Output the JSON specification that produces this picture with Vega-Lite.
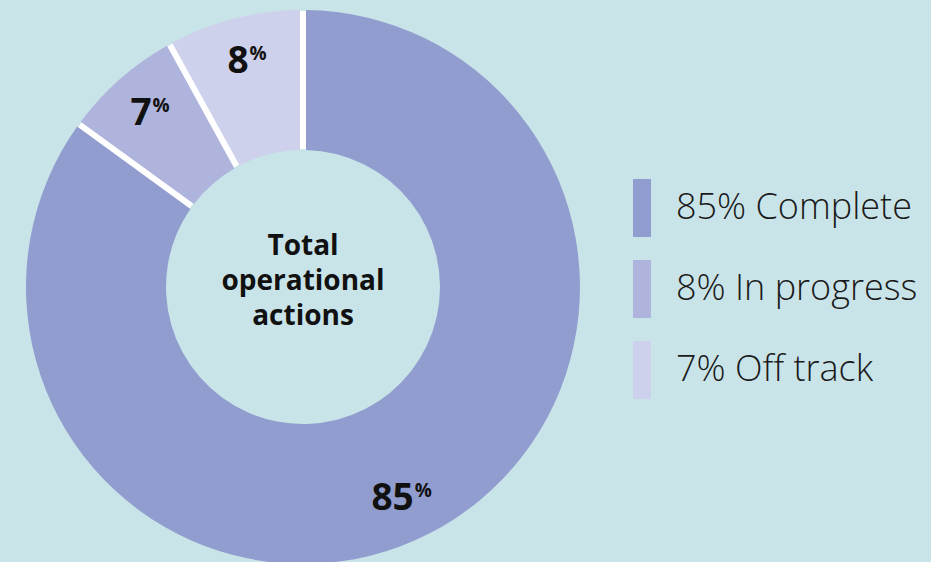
{
  "$schema": "https://vega.github.io/schema/vega-lite/v6.json",
  "width": 606,
  "height": 574,
  "padding": {"left": 0, "top": 0, "right": 30, "bottom": 0},
  "background": "#c9e4e8",
  "config": {
    "view": {"stroke": null},
    "legend": {
      "orient": "none",
      "legendX": 613,
      "legendY": 179,
      "padding": 0,
      "symbolType": "M-0.31,-1H0.31V1H-0.31Z",
      "symbolSize": 3364,
      "symbolOpacity": 1,
      "symbolStrokeWidth": 0,
      "labelFont": "Open Sans",
      "labelFontSize": 36,
      "labelFontWeight": 300,
      "labelColor": "#1a1a1a",
      "labelOffset": 5,
      "rowPadding": 23,
      "labelLimit": 400
    }
  },
  "datasets": {
    "slices": [
      {"segment": "Complete", "value": 85, "label": "85", "rank": 1},
      {"segment": "Off track", "value": 7, "label": "7", "rank": 2},
      {"segment": "In progress", "value": 8, "label": "8", "rank": 3}
    ],
    "key": [
      {"status": "85% Complete"},
      {"status": "8% In progress"},
      {"status": "7% Off track"}
    ]
  },
  "layer": [
    {
      "data": {"values": [{"ring": "all"}]},
      "mark": {"type": "arc", "theta": 0, "theta2": 6.2832, "outerRadius": 276, "innerRadius": 138, "fill": "#ffffff"},
      "encoding": {}
    },
    {
      "data": {"name": "slices"},
      "mark": {"type": "arc", "outerRadius": 277, "innerRadius": 137, "padAngle": 0.0194},
      "encoding": {
        "theta": {"field": "value", "type": "quantitative", "stack": true},
        "order": {"field": "rank", "type": "quantitative"},
        "color": {
          "field": "segment",
          "type": "nominal",
          "scale": {"domain": ["Complete", "Off track", "In progress"], "range": ["#919dcf", "#afb4dc", "#ced1eb"]},
          "legend": null
        }
      }
    },
    {
      "data": {"name": "slices"},
      "mark": {"type": "text", "radius": 235, "font": "Open Sans", "fontSize": 37, "fontWeight": "bold", "align": "right", "baseline": "middle", "dx": 4, "dy": 3, "color": "#111111"},
      "encoding": {
        "theta": {"field": "value", "type": "quantitative", "stack": true},
        "order": {"field": "rank", "type": "quantitative"},
        "text": {"field": "label"}
      }
    },
    {
      "data": {"name": "slices"},
      "mark": {"type": "text", "radius": 235, "font": "Open Sans", "fontSize": 19, "fontWeight": "bold", "align": "left", "baseline": "middle", "dx": 5, "dy": -5, "color": "#111111"},
      "encoding": {
        "theta": {"field": "value", "type": "quantitative", "stack": true},
        "order": {"field": "rank", "type": "quantitative"},
        "text": {"value": "%"}
      }
    },
    {
      "data": {"values": [{"caption": "Total\noperational\nactions"}]},
      "mark": {"type": "text", "font": "Open Sans", "fontSize": 28, "fontWeight": "bold", "lineBreak": "\n", "lineHeight": 35, "align": "center", "baseline": "middle", "dy": -40, "color": "#111111"},
      "encoding": {"text": {"field": "caption"}}
    },
    {
      "data": {"name": "key"},
      "mark": {"type": "square", "opacity": 0, "size": 1},
      "encoding": {
        "color": {
          "field": "status",
          "type": "nominal",
          "scale": {"domain": ["85% Complete", "8% In progress", "7% Off track"], "range": ["#919dcf", "#afb4dc", "#ced1eb"]},
          "legend": {"title": null}
        }
      }
    }
  ],
  "resolve": {"scale": {"color": "independent"}}
}
